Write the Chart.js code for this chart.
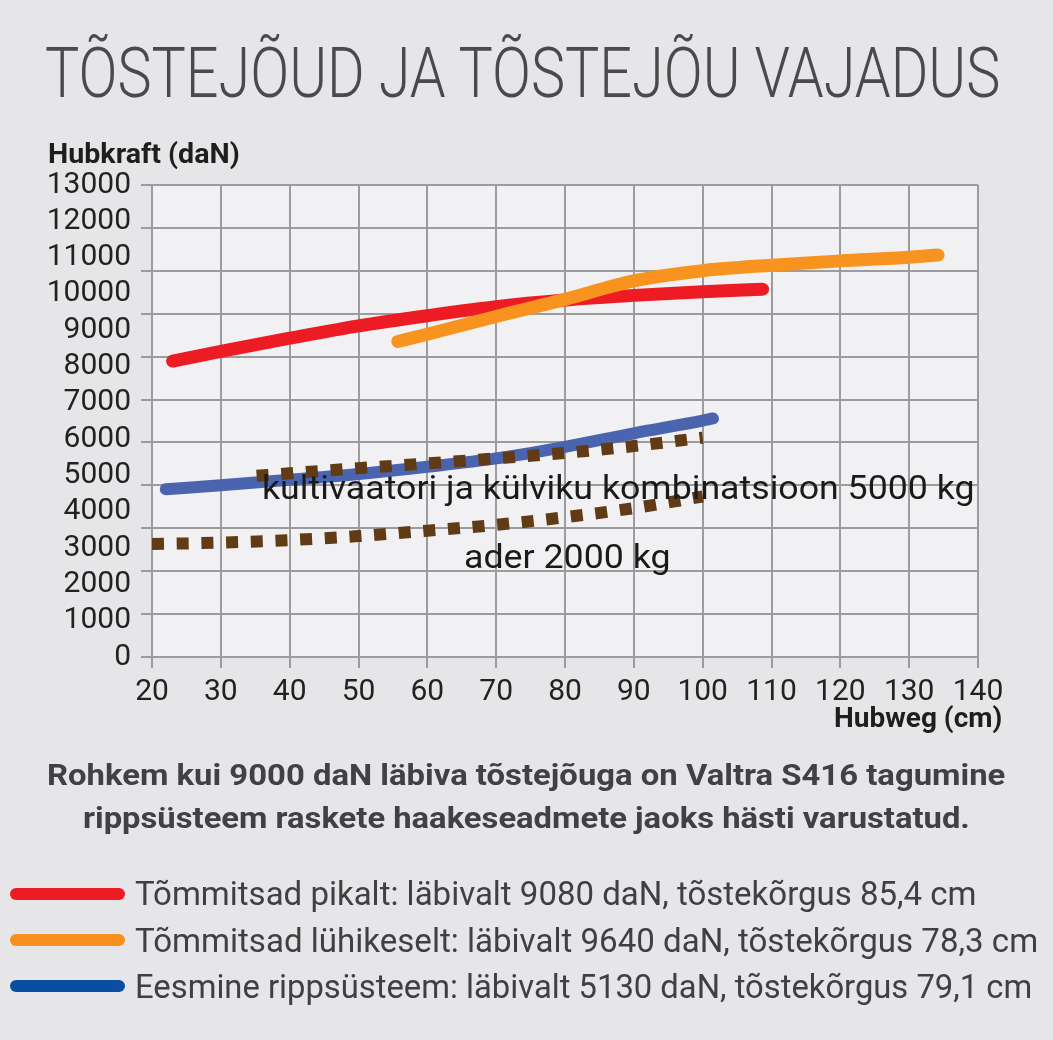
<!DOCTYPE html>
<html lang="et">
<head>
<meta charset="utf-8">
<title>Tõstejõud ja tõstejõu vajadus</title>
<script src="https://cdn.jsdelivr.net/npm/chart.js@4.4.1/dist/chart.umd.min.js"></script>
<style>
  html, body { margin: 0; padding: 0; background: #e6e6e8; }
  #wrap { position: relative; width: 1053px; height: 1040px; overflow: hidden; font-family: Roboto, "Open Sans", sans-serif; }
  #graafik { position: absolute; left: 0; top: 0; }
  .txt { position: absolute; white-space: nowrap; line-height: 1; transform-origin: 0 50%; z-index: 2; }
  .pealkiri { font-size: 70px; font-weight: 300; color: #4a4a4c; }
  .telg { font-size: 27px; font-weight: 700; color: #1e1e1e; }
  .selgitus { font-size: 30px; font-weight: 700; color: #414143; }
  .legend { font-size: 33px; font-weight: 400; color: #404042; }
  .markus { font-size: 34px; font-weight: 400; color: #1a1a1a; }
  .joon { position: absolute; left: 10px; width: 115px; height: 12px; border-radius: 6px; z-index: 2; }
</style>
</head>
<body>
<div id="wrap">
  <canvas id="graafik" width="1053" height="1040"></canvas>

  <div class="txt pealkiri" data-x="45" data-y="73" data-w="955">TÕSTEJÕUD JA TÕSTEJÕU VAJADUS</div>
  <div class="txt telg" data-x="48" data-y="154" data-w="192">Hubkraft (daN)</div>
  <div class="txt telg" data-x="834" data-y="718" data-w="168">Hubweg (cm)</div>

  <div class="txt markus" data-x="262" data-y="487" data-w="713">kultivaatori ja külviku kombinatsioon 5000 kg</div>
  <div class="txt markus" data-x="464" data-y="556" data-w="207">ader 2000 kg</div>

  <div class="txt selgitus" data-x="47" data-y="775" data-w="958">Rohkem kui 9000 daN läbiva tõstejõuga on Valtra S416 tagumine</div>
  <div class="txt selgitus" data-x="83" data-y="818" data-w="887">rippsüsteem raskete haakeseadmete jaoks hästi varustatud.</div>

  <div class="joon" style="top:888px; background:#ed1c24;"></div>
  <div class="txt legend" data-x="135" data-y="893" data-w="842">Tõmmitsad pikalt: läbivalt 9080 daN, tõstekõrgus 85,4 cm</div>
  <div class="joon" style="top:934px; background:#f7901e;"></div>
  <div class="txt legend" data-x="135" data-y="940" data-w="903">Tõmmitsad lühikeselt: läbivalt 9640 daN, tõstekõrgus 78,3 cm</div>
  <div class="joon" style="top:980px; background:#0a4ea2;"></div>
  <div class="txt legend" data-x="135" data-y="986" data-w="897">Eesmine rippsüsteem: läbivalt 5130 daN, tõstekõrgus 79,1 cm</div>
</div>

<script>
// telgede jaotised
const xTicks = [20, 30, 40, 50, 60, 70, 80, 90, 100, 110, 120, 130, 140];
const yTicks = [0, 1000, 2000, 3000, 4000, 5000, 6000, 7000, 8000, 9000, 10000, 11000, 12000, 13000];

// Tõmmitsad pikalt (punane)
const pikaltX = [23, 30, 40, 50, 60, 70, 80, 90, 100, 108.7];
const pikaltY = [8150, 8420, 8780, 9120, 9400, 9650, 9830, 9960, 10060, 10130];

// Tõmmitsad lühikeselt (oranž)
const luhikeseltX = [55.7, 60, 70, 80, 90, 100, 110, 120, 130, 134.2];
const luhikeseltY = [8690, 8890, 9380, 9850, 10360, 10640, 10790, 10910, 11010, 11070];

// Eesmine rippsüsteem (sinine)
const eesmineX = [22, 30, 40, 50, 60, 70, 80, 90, 100, 101.5];
const eesmineY = [4620, 4730, 4880, 5040, 5240, 5470, 5790, 6160, 6510, 6570];

// kultivaatori ja külviku kombinatsioon 5000 kg (pruun punktiir)
const kultivaatorX = [35.2, 40, 50, 60, 70, 80, 90, 100];
const kultivaatorY = [4990, 5060, 5200, 5330, 5470, 5620, 5810, 6040];

// ader 2000 kg (pruun punktiir)
const aderX = [20, 30, 40, 50, 60, 70, 80, 90, 100];
const aderY = [3110, 3150, 3220, 3330, 3480, 3640, 3850, 4100, 4420];

function punktid(xs, ys) {
  return xs.map((x, i) => ({ x: x, y: ys[i] }));
}

const gridColor = '#9c9c9e';
const tickFont = { family: 'Roboto', size: 30 };

const taust = {
  id: 'taust',
  beforeDraw(chart) {
    const a = chart.chartArea;
    const c = chart.ctx;
    c.save();
    c.fillStyle = '#f1f1f3';
    c.fillRect(a.left, a.top, a.right - a.left, a.bottom - a.top);
    c.restore();
  }
};

function joonista() {
  const ctx = document.getElementById('graafik').getContext('2d');

  new Chart(ctx, {
    type: 'line',
    data: {
      datasets: [
        { label: 'Tõmmitsad lühikeselt', data: punktid(luhikeseltX, luhikeseltY), borderColor: '#f7931e', borderWidth: 13, order: 1 },
        { label: 'Tõmmitsad pikalt', data: punktid(pikaltX, pikaltY), borderColor: '#ed1c24', borderWidth: 13, order: 2 },
        { label: 'kultivaator', data: punktid(kultivaatorX, kultivaatorY), borderColor: '#603b15', borderWidth: 12,
          borderDash: [12, 12.7], borderCapStyle: 'butt', order: 3 },
        { label: 'ader', data: punktid(aderX, aderY), borderColor: '#603b15', borderWidth: 12,
          borderDash: [12, 12.7], borderCapStyle: 'butt', order: 4 },
        { label: 'Eesmine rippsüsteem', data: punktid(eesmineX, eesmineY), borderColor: '#4b64b0', borderWidth: 12, order: 5 }
      ].map(d => Object.assign(d, { xAxisID: 'x', yAxisID: 'y' }))
    },
    options: {
      responsive: false,
      animation: false,
      layout: { padding: { top: 185, right: 75, bottom: 338, left: 0 } },
      elements: {
        line: { cubicInterpolationMode: 'monotone', borderCapStyle: 'round', borderJoinStyle: 'round', fill: false },
        point: { radius: 0 }
      },
      plugins: { legend: { display: false }, tooltip: { enabled: false } },
      scales: {
        x: {
          type: 'linear', min: 20, max: 140,
          afterBuildTicks: s => { s.ticks = xTicks.map(v => ({ value: v })); },
          ticks: { color: '#222', font: tickFont, padding: 6, autoSkip: false, maxRotation: 0, callback: v => String(v) },
          grid: { color: gridColor, lineWidth: 2, tickLength: 11 },
          border: { color: gridColor, width: 2 },
          afterFit: s => { s.height = 45; }
        },
        y: {
          type: 'linear', position: 'left', weight: 1, min: 0, max: 13000,
          afterBuildTicks: s => { s.ticks = yTicks.map(v => ({ value: v })); },
          ticks: { color: '#222', font: tickFont, padding: 10, autoSkip: false, callback: v => String(v) },
          grid: { display: false, drawTicks: false },
          border: { display: false },
          afterFit: s => { s.width = 141; }
        },
        yg: {
          type: 'linear', position: 'left', weight: 0, min: 0, max: 11,
          ticks: { stepSize: 1, display: false },
          grid: { color: gridColor, lineWidth: 2, tickLength: 11 },
          border: { color: gridColor, width: 2 },
          afterFit: s => { s.width = 11; }
        }
      }
    },
    plugins: [taust]
  });
}

function paiguta() {
  document.querySelectorAll('.txt').forEach(el => {
    const fs = parseFloat(getComputedStyle(el).fontSize);
    el.style.left = el.dataset.x + 'px';
    el.style.top = (parseFloat(el.dataset.y) - fs * 0.5) + 'px';
    const w = el.offsetWidth;
    el.style.transform = 'scaleX(' + (parseFloat(el.dataset.w) / w) + ')';
  });
}

document.fonts.ready.then(() => {
  paiguta();
  joonista();
});
</script>
</body>
</html>
